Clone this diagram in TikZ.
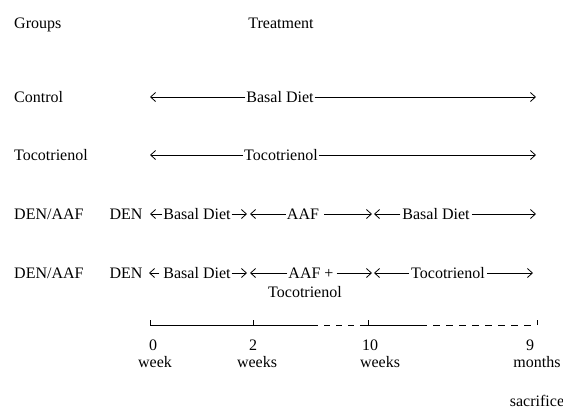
\documentclass[tikz,border=0pt]{standalone}
\usepackage{fontspec}
\setmainfont{Liberation Serif}
\usetikzlibrary{arrows.meta}
\tikzset{
  lbl/.style={font=\fontsize{16}{18}\selectfont, inner sep=0pt, anchor=base},
  arr/.style={draw, line width=0.8pt, -{Straight Barb[length=5pt,width=9pt,line width=0.8pt]}},
  tline/.style={draw, line width=0.9pt},
  tdash/.style={draw, line width=0.9pt, dash pattern=on 7pt off 6pt},
}
\begin{document}
\begin{tikzpicture}[x=1pt,y=-1pt]
\useasboundingbox (0,0) rectangle (563,416);
% headers
\node[lbl, anchor=base west] (groups) at (14,28) {Groups};
\node[lbl] (treat) at (281,28) {Treatment};
% group labels
\node[lbl, anchor=base west] (g1) at (14,102) {Control};
\node[lbl, anchor=base west] (g2) at (14,160) {Tocotrienol};
\node[lbl, anchor=base west] (g3) at (14,219) {DEN/AAF};
\node[lbl, anchor=base west] (g4) at (14,278) {DEN/AAF};
% row 1
\coordinate (r1a) at (150,97);
\coordinate (r1b) at (536,97);
\node[lbl, inner xsep=1pt] (bd1) at (280,102) {Basal Diet};
\draw[arr] (bd1.west |- r1a) -- (r1a);
\draw[arr] (bd1.east |- r1b) -- (r1b);
% row 2
\coordinate (r2a) at (150,155);
\coordinate (r2b) at (536,155);
\node[lbl, inner xsep=1pt] (tc2) at (281,160) {Tocotrienol};
\draw[arr] (tc2.west |- r2a) -- (r2a);
\draw[arr] (tc2.east |- r2b) -- (r2b);
% row 3
\node[lbl] (den3) at (126,219) {DEN};
\coordinate (r3a) at (150,214);
\node[lbl, inner xsep=1pt] (bd3) at (197,219) {Basal Diet};
\coordinate (r3b) at (247,214);
\coordinate (r3c) at (250,214);
\node[lbl, inner xsep=1pt] (aaf3) at (303,219) {AAF};
\coordinate (r3d) at (372,214);
\coordinate (r3e) at (374,214);
\node[lbl, inner xsep=2pt] (bd3b) at (436,219) {Basal Diet};
\coordinate (r3f) at (536,214);
\draw[arr] (bd3.west |- r3a) -- (r3a);
\draw[arr] (bd3.east |- r3b) -- (r3b);
\draw[arr] (aaf3.west |- r3c) -- (r3c);
\draw[arr] ([xshift=4pt]aaf3.east |- r3d) -- (r3d);
\draw[arr] (bd3b.west |- r3e) -- (r3e);
\draw[arr] (bd3b.east |- r3f) -- (r3f);
% row 4
\node[lbl] (den4) at (126,278) {DEN};
\coordinate (r4a) at (149,273);
\node[lbl, inner xsep=1pt] (bd4) at (197,278) {Basal Diet};
\coordinate (r4b) at (247,273);
\coordinate (r4c) at (250,273);
\node[lbl, inner xsep=1pt] (aaf4) at (311,278) {AAF +};
\node[lbl] (tc4s) at (305,297) {Tocotrienol};
\coordinate (r4d) at (372,273);
\coordinate (r4e) at (374,273);
\node[lbl, inner xsep=2pt] (tc4) at (448,278) {Tocotrienol};
\coordinate (r4f) at (533,273);
\draw[arr] ([xshift=-3pt]bd4.west |- r4a) -- (r4a);
\draw[arr] (bd4.east |- r4b) -- (r4b);
\draw[arr] (aaf4.west |- r4c) -- (r4c);
\draw[arr] ([xshift=2pt]aaf4.east |- r4d) -- (r4d);
\draw[arr] (tc4.west |- r4e) -- (r4e);
\draw[arr] (tc4.east |- r4f) -- (r4f);
% timeline
\coordinate (t0) at (150,325);
\coordinate (t2) at (253,325);
\coordinate (ta) at (312,325);
\coordinate (t10) at (368,325);
\coordinate (tb) at (361,325);
\coordinate (tc) at (420,325);
\coordinate (t9) at (537,325);
\draw[tline] (t0) -- (ta);
\draw[tdash, dash pattern=on 6pt off 6pt] (ta) -- (tb);
\draw[tline] (tb) -- (tc);
\draw[tdash] (tc) -- (t9);
\draw[tline] (t0) -- ++(0,-5);
\draw[tline] (t2) -- ++(0,-5);
\draw[tline] (t10) -- ++(0,-5);
\draw[tline] (t9) -- ++(0,-5);
% time labels
\node[lbl] (n0) at (153,350) {0};
\node[lbl] (w0) at (155,367) {week};
\node[lbl] (n2) at (253,350) {2};
\node[lbl] (w2) at (257,367) {weeks};
\node[lbl] (n10) at (370,350) {10};
\node[lbl] (w10) at (380,367) {weeks};
\node[lbl] (n9) at (530,350) {9};
\node[lbl] (m9) at (537,367) {months};
\node[lbl] (sac) at (537,406) {sacrifice};
\end{tikzpicture}
\end{document}
